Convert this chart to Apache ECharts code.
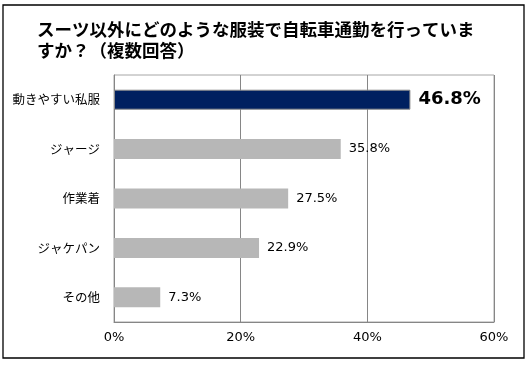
<!DOCTYPE html>
<html><head><meta charset="utf-8">
<script src="https://cdn.jsdelivr.net/npm/echarts@6/dist/echarts.min.js"></script>
<style>html,body{margin:0;padding:0;background:#fff}#c{width:531px;height:366px}</style>
</head><body><div id="c"></div>
<script>
const titleText = "スーツ以外にどのような服装で自転車通勤を行っていま\nすか？（複数回答）";
const categories = ["動きやすい私服", "ジャージ", "作業着", "ジャケパン", "その他"];
const values = [46.8, 35.8, 27.5, 22.9, 7.3];
const axisTicks = [0, 20, 40, 60];

const chart = echarts.init(document.getElementById('c'), null, {renderer: 'canvas'});
const cjk = '"Noto Sans CJK JP", "Noto Sans", sans-serif';
const num = '"DejaVu Sans", sans-serif';
chart.setOption({
  animation: false,
  backgroundColor: '#fff',
  title: {
    text: titleText, left: 37, top: 19, padding: 0,
    textStyle: {fontFamily: cjk, fontSize: 17.5, fontWeight: 'bold', color: '#000', lineHeight: 21}
  },
  graphic: [{
    type: 'rect', shape: {x: 3, y: 5, width: 521, height: 353},
    style: {fill: null, stroke: '#000', lineWidth: 1.3}, silent: true, z: 100
  }],
  grid: {left: 114, right: 37, top: 75, bottom: 44, show: true, borderColor: '#a6a6a6', borderWidth: 1},
  xAxis: {
    type: 'value', min: axisTicks[0], max: axisTicks[axisTicks.length - 1], interval: 20,
    axisLine: {show: true, lineStyle: {color: '#868686'}},
    axisTick: {show: false},
    splitLine: {show: true, lineStyle: {color: '#868686'}},
    axisLabel: {formatter: '{value}%', fontFamily: num, fontSize: 13, color: '#000', margin: 9}
  },
  yAxis: {
    type: 'category', data: categories, inverse: true,
    axisLine: {show: true, lineStyle: {color: '#868686'}},
    axisTick: {show: false},
    axisLabel: {fontFamily: cjk, fontSize: 12.5, color: '#000', margin: 14}
  },
  series: [{
    type: 'bar', barWidth: 20,
    data: values.map((v, i) => i === 0 ? {
      value: v,
      itemStyle: {color: '#002060', borderColor: '#8a8a8a', borderWidth: 1},
      label: {fontSize: 18, fontWeight: 'bold'}
    } : {value: v}),
    itemStyle: {color: '#b7b7b7'},
    label: {
      show: true, position: 'right', distance: 8,
      formatter: p => p.value.toFixed(1) + '%',
      fontFamily: num, fontSize: 13, color: '#000'
    }
  }]
});
</script></body></html>
